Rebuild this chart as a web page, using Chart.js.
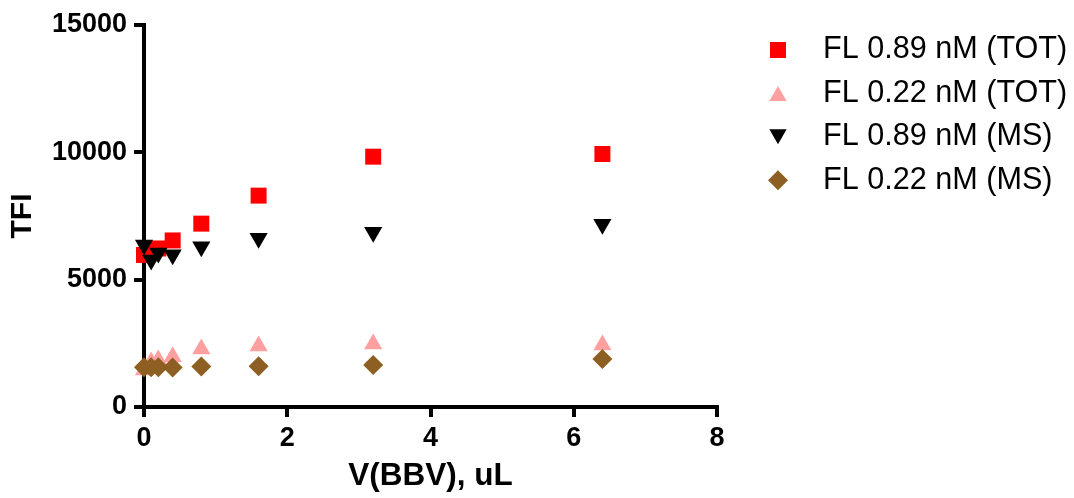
<!DOCTYPE html>
<html>
<head>
<meta charset="utf-8">
<script src="https://cdn.jsdelivr.net/npm/chart.js@4/dist/chart.umd.min.js"></script>
<style>
  html, body { margin: 0; padding: 0; background: #fff; }
  #wrap { width: 1074px; height: 498px; position: relative; }
</style>
</head>
<body>
<div id="wrap"><canvas id="c" width="1074" height="498"></canvas></div>
<script>
// ---- data ----
const volumes = [0, 0.1, 0.2, 0.4, 0.8, 1.6, 3.2, 6.4];
const fl089TOT = [5970, 6100, 6225, 6540, 7200, 8300, 9830, 9935];
const fl022TOT = [1450, 1770, 1850, 1975, 2280, 2395, 2475, 2435];
const fl089MS  = [6360, 5770, 6050, 5980, 6290, 6625, 6860, 7175];
const fl022MS  = [1560, 1560, 1565, 1555, 1590, 1600, 1650, 1880];
const seriesLabels = ['FL 0.89 nM (TOT)', 'FL 0.22 nM (TOT)', 'FL 0.89 nM (MS)', 'FL 0.22 nM (MS)'];
const xTickValues = [0, 2, 4, 6, 8];
const yTickValues = [0, 5000, 10000, 15000];
const xTitle = 'V(BBV), uL';
const yTitle = 'TFI';

const toPoints = (vals) => volumes.map((v, i) => ({ x: v, y: vals[i] }));

const styles = [
  { color: '#FF0000', pointStyle: 'rect', rotation: 0, radius: 11.3, order: 4 },
  { color: '#FFA0A0', pointStyle: 'triangle', rotation: 0, radius: 10.5, order: 3 },
  { color: '#000000', pointStyle: 'triangle', rotation: 180, radius: 10.5, order: 2 },
  { color: '#8E5F22', pointStyle: 'rectRot', rotation: 0, radius: 10, order: 1 }
];
const allSeries = [fl089TOT, fl022TOT, fl089MS, fl022MS];

const datasets = allSeries.map((vals, i) => ({
  label: seriesLabels[i],
  data: toPoints(vals),
  pointStyle: styles[i].pointStyle,
  rotation: styles[i].rotation,
  pointRadius: styles[i].radius,
  pointHoverRadius: styles[i].radius,
  backgroundColor: styles[i].color,
  borderColor: styles[i].color,
  pointBorderWidth: 0,
  borderWidth: 0,
  showLine: false,
  clip: false,
  order: styles[i].order
}));

const FONT = "'Liberation Sans', Arial, Helvetica, sans-serif";

const legendPlugin = {
  id: 'customLegend',
  afterDraw(chart) {
    const ctx = chart.ctx;
    const markerX = 778, textX = 823, y0 = 50, dy = 43.4;
    ctx.save();
    seriesLabels.forEach((label, i) => {
      const st = styles[i];
      const rowY = y0 + dy * i;
      let cy = rowY;
      if (st.pointStyle === 'triangle') cy = st.rotation === 180 ? rowY - st.radius / 4 : rowY + st.radius / 4;
      const r = st.pointStyle === 'rect' ? 11.3 : 10;
      ctx.fillStyle = st.color;
      ctx.strokeStyle = st.color;
      Chart.helpers.drawPoint(ctx, { pointStyle: st.pointStyle, rotation: st.rotation, radius: r, borderWidth: 0 }, markerX, cy);
      ctx.fillStyle = '#000';
      ctx.font = "30.6px " + FONT;
      ctx.textAlign = 'left';
      ctx.textBaseline = 'middle';
      ctx.fillText(label, textX, rowY);
    });
    ctx.restore();
  }
};

new Chart(document.getElementById('c'), {
  type: 'scatter',
  data: { datasets },
  options: {
    responsive: false,
    animation: false,
    events: [],
    layout: { padding: { top: 25, right: 357, bottom: 0, left: 0 } },
    plugins: { legend: { display: false }, tooltip: { enabled: false } },
    scales: {
      x: {
        type: 'linear',
        min: 0, max: 8,
        afterFit(scale) { scale.height = 91; },
        afterBuildTicks(scale) { scale.ticks = xTickValues.map(v => ({ value: v })); },
        border: { display: true, color: '#000', width: 4 },
        grid: { drawOnChartArea: false, drawTicks: true, tickLength: 10, color: '#000', lineWidth: 4 },
        ticks: {
          color: '#000', padding: 5,
          font: { family: FONT, size: 27, weight: 'bold' },
          callback: (v) => String(v),
          maxRotation: 0
        },
        title: {
          display: true, text: xTitle, color: '#000',
          font: { family: FONT, size: 31.5, weight: 'bold' },
          padding: { top: 0, bottom: 3 }
        }
      },
      y: {
        type: 'linear',
        min: 0, max: 15000,
        afterFit(scale) { scale.width = 144; },
        afterBuildTicks(scale) { scale.ticks = yTickValues.map(v => ({ value: v })); },
        border: { display: true, color: '#000', width: 4 },
        grid: { drawOnChartArea: false, drawTicks: true, tickLength: 10, color: '#000', lineWidth: 4 },
        ticks: {
          color: '#000', padding: 7,
          font: { family: FONT, size: 27, weight: 'bold' },
          callback: (v) => String(v)
        },
        title: {
          display: true, text: yTitle, color: '#000',
          font: { family: FONT, size: 30, weight: 'bold' },
          padding: { top: 5, bottom: 0 }
        }
      }
    }
  },
  plugins: [legendPlugin]
});
</script>
</body>
</html>
